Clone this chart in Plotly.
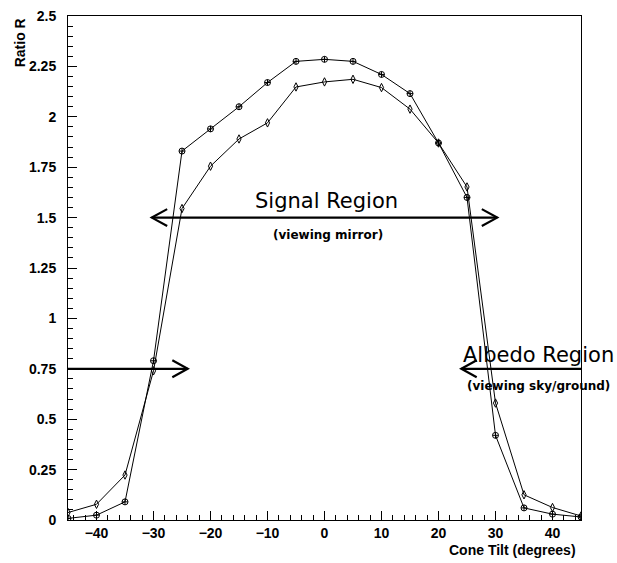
import plotly.graph_objects as go

tilt = [-45, -40, -35, -30, -25, -20, -15, -10, -5, 0, 5, 10, 15, 20, 25, 30, 35, 40, 45]
ratio_a = [0.008, 0.024, 0.09, 0.79, 1.83, 1.94, 2.05, 2.17, 2.275, 2.285, 2.275, 2.21, 2.115, 1.87, 1.60, 0.42, 0.06, 0.029, 0.015]
ratio_b = [0.037, 0.078, 0.223, 0.74, 1.545, 1.755, 1.89, 1.97, 2.148, 2.173, 2.186, 2.145, 2.038, 1.87, 1.652, 0.58, 0.125, 0.062, 0.02]

ytick_vals = [0, 0.25, 0.5, 0.75, 1, 1.25, 1.5, 1.75, 2, 2.25, 2.5]
ytick_text = ["0", "0.25", "0.5", "0.75", "1", "1.25", "1.5", "1.75", "2", "2.25", "2.5"]
xtick_vals = [-40, -30, -20, -10, 0, 10, 20, 30, 40]

# arrows: (x_start, x_end, y)
signal_arrow = (-30.3, 30.3, 1.5)
albedo_left_arrow = (-45, -24, 0.75)
albedo_right_arrow = (45, 24, 0.75)

fig = go.Figure()
fig.add_trace(go.Scatter(x=tilt, y=ratio_b, mode="lines+markers",
                         line=dict(color="black", width=1),
                         marker=dict(symbol="diamond-tall-open", size=6, color="black", line=dict(width=1))))
fig.add_trace(go.Scatter(x=tilt, y=ratio_a, mode="lines+markers",
                         line=dict(color="black", width=1),
                         marker=dict(symbol="circle-cross-open", size=6, color="black", line=dict(width=1))))

HX = 2.7    # arrowhead length in degrees
HY = 0.042  # arrowhead half-width in ratio units

def head(tip_x, y, direction):
    bx = tip_x - direction * HX
    return f"M {bx} {y + HY} L {tip_x} {y} L {bx} {y - HY}"

shapes = []
def add_arrow(x0, x1, y, both=False):
    shapes.append(dict(type="line", xref="x", yref="y", x0=x0, x1=x1, y0=y, y1=y,
                       line=dict(color="black", width=2.2)))
    d = 1 if x1 > x0 else -1
    shapes.append(dict(type="path", xref="x", yref="y", path=head(x1, y, d),
                       line=dict(color="black", width=2.2)))
    if both:
        shapes.append(dict(type="path", xref="x", yref="y", path=head(x0, y, -d),
                           line=dict(color="black", width=2.2)))

add_arrow(signal_arrow[0], signal_arrow[1], signal_arrow[2], both=True)
add_arrow(*albedo_left_arrow)
add_arrow(*albedo_right_arrow)

big_font = dict(family="DejaVu Sans", size=21, color="black")
small_font = dict(family="DejaVu Sans", size=12, color="black", weight="bold")
axis_font = dict(family="Liberation Sans", size=14, color="black", weight="bold")
title_font = dict(family="Liberation Sans", size=14, color="black", weight="bold")

annotations = [
    dict(x=0.3, y=1.58, xref="x", yref="y", text="Signal Region", showarrow=False, font=big_font),
    dict(x=0.6, y=1.416, xref="x", yref="y", text="(viewing mirror)", showarrow=False, font=small_font),
    dict(x=37.5, y=0.82, xref="x", yref="y", text="Albedo Region", showarrow=False, font=big_font),
    dict(x=37.5, y=0.665, xref="x", yref="y", text="(viewing sky/ground)", showarrow=False, font=small_font),
    dict(x=-0.094, y=1.0, xref="paper", yref="paper", text="Ratio R", textangle=-90,
         xanchor="center", yanchor="top", showarrow=False, font=title_font),
    dict(x=0.995, y=-0.06, xref="paper", yref="paper", text="Cone Tilt (degrees)",
         xanchor="right", yanchor="middle", showarrow=False, font=title_font),
]

fig.update_layout(
    width=617, height=563,
    margin=dict(l=68, r=36, t=8, b=43),
    paper_bgcolor="white", plot_bgcolor="white",
    showlegend=False,
    shapes=shapes, annotations=annotations,
    xaxis=dict(range=[-45, 45], tickvals=xtick_vals, ticks="inside", ticklen=9,
               tickcolor="black", showline=True, linecolor="black", linewidth=1, mirror=True,
               showgrid=False, zeroline=False, tickfont=axis_font, ticklabeloverflow="allow",
               minor=dict(dtick=2, ticks="inside", ticklen=5, tickcolor="black", showgrid=False)),
    yaxis=dict(range=[0, 2.5], tickvals=ytick_vals, ticktext=ytick_text, ticks="inside", ticklen=9,
               tickcolor="black", showline=True, linecolor="black", linewidth=1, mirror=True,
               showgrid=False, zeroline=False, tickfont=axis_font, ticklabeloverflow="allow",
               ticklabelstandoff=8,
               minor=dict(dtick=0.05, ticks="inside", ticklen=5, tickcolor="black", showgrid=False)),
)

fig.write_html("out.html", config={"displayModeBar": False},
               post_script="document.body.style.margin='0';document.body.style.overflow='hidden';")
